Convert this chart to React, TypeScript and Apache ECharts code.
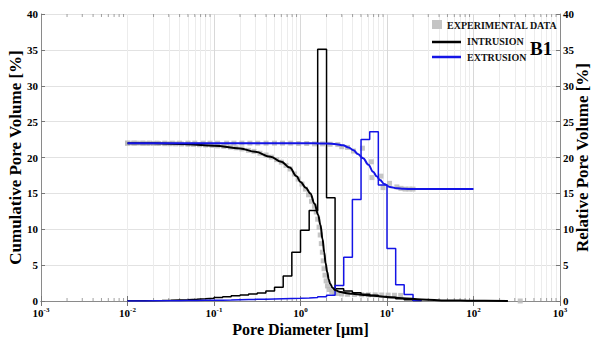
import React, { useEffect, useRef } from "react";
import * as echarts from "echarts";

// Histogram bin edges (µm), 0.1-decade log bins
const binEdges = [
  0.01, 0.0126, 0.0158, 0.02, 0.0251, 0.0316, 0.0398, 0.0501, 0.0631, 0.0794,
  0.1, 0.126, 0.158, 0.2, 0.251, 0.316, 0.398, 0.501, 0.631, 0.794,
  1, 1.26, 1.58, 2.0, 2.51, 3.16, 3.98, 5.01, 6.31, 7.94,
  10, 12.6, 15.8, 20, 25.1,
];

// Relative pore volume per bin [%]
const intrusionRel = [
  0.02, 0.03, 0.05, 0.07, 0.1, 0.14, 0.18, 0.24, 0.31, 0.4,
  0.5, 0.6, 0.72, 0.84, 0.97, 1.1, 1.4, 1.93, 3.5, 6.8,
  9.86, 12.6, 35.1, 14.4, 1.7, 1.4, 1.15, 0.95, 0.8, 0.62,
  0.48, 0.32, 0.18, 0.07,
];
const extrusionRel = [
  0.0, 0.01, 0.02, 0.03, 0.04, 0.05, 0.06, 0.07, 0.09, 0.1,
  0.12, 0.14, 0.17, 0.2, 0.23, 0.26, 0.29, 0.32, 0.35, 0.38,
  0.42, 0.5, 0.6, 0.8, 2.17, 6.1, 14.15, 22.5, 23.6, 16.15,
  7.3, 2.26, 0.9, 0.07,
];

// Cumulative fitted curves [diameter µm, %]
const intrusionCum = [
  [0.01, 22.0], [0.02, 21.97], [0.05, 21.85], [0.1, 21.65], [0.2, 21.25],
  [0.3, 20.8], [0.45, 20.1], [0.6, 19.4], [0.75, 18.6], [0.9, 17.4],
  [1.0, 16.6], [1.15, 15.8], [1.3, 15.0], [1.45, 13.6], [1.6, 12.0],
  [1.7, 10.6], [1.8, 8.6], [1.88, 6.8], [1.95, 5.3], [2.04, 4.0],
  [2.12, 3.0], [2.2, 2.4], [2.35, 1.85], [2.5, 1.55], [2.8, 1.3],
  [3.3, 1.12], [4, 1.0], [5, 0.88], [7, 0.72], [10, 0.57],
  [15, 0.4], [25, 0.22], [50, 0.08], [100, 0.03], [250, 0.0],
];
const extrusionCum = [
  [0.01, 22.0], [0.1, 22.0], [1, 22.0], [2, 21.95], [2.6, 21.85],
  [3.1, 21.7], [3.6, 21.4], [4.1, 21.0], [4.6, 20.5], [5.3, 19.9],
  [6.1, 19.0], [6.9, 18.0], [7.6, 17.4], [8.3, 16.85], [9.3, 16.3],
  [10.8, 15.9], [13, 15.7], [15.5, 15.65], [20, 15.6], [100, 15.6],
];

// Experimental data points [diameter µm, %]
const expIntrusion = [
  [0.01, 22.0], [0.0115, 22.0], [0.013, 22.0], [0.015, 21.98], [0.017, 21.97],
  [0.02, 21.96], [0.023, 21.95], [0.027, 21.93], [0.031, 21.92], [0.036, 21.9],
  [0.042, 21.88], [0.05, 21.85], [0.058, 21.82], [0.068, 21.78], [0.08, 21.74],
  [0.095, 21.68], [0.11, 21.62], [0.13, 21.55], [0.155, 21.45], [0.18, 21.35],
  [0.21, 21.2], [0.25, 21.0], [0.29, 20.85], [0.34, 20.6], [0.4, 20.35],
  [0.46, 20.05], [0.53, 19.7], [0.6, 19.35], [0.68, 18.9], [0.76, 18.4],
  [0.85, 17.7], [0.94, 17.0], [1.04, 16.3], [1.14, 15.6], [1.24, 14.8],
  [1.34, 13.9], [1.45, 13.2], [1.52, 12.4], [1.58, 11.4], [1.64, 10.3],
  [1.69, 9.2], [1.74, 8.0], [1.79, 6.8], [1.83, 5.6], [1.87, 4.5],
  [1.92, 3.6], [1.98, 2.8], [2.05, 2.1], [2.15, 1.6], [2.3, 1.3],
  [2.5, 1.15], [2.7, 1.05], [3.0, 0.98], [3.5, 0.93], [4.2, 0.9],
  [5.1, 0.87], [6.1, 0.86], [7.3, 0.85], [8.7, 0.84], [10.3, 0.82],
  [12.2, 0.8], [14.4, 0.78], [347, 0.0],
];
const expExtrusion = [
  [0.01, 22.0], [0.012, 22.0], [0.015, 22.0], [0.018, 22.0], [0.022, 22.0],
  [0.027, 22.0], [0.033, 22.0], [0.04, 22.0], [0.05, 22.0], [0.06, 22.0],
  [0.075, 22.0], [0.09, 22.0], [0.11, 22.0], [0.14, 22.0], [0.17, 22.0],
  [0.21, 22.0], [0.26, 22.0], [0.32, 22.0], [0.4, 22.0], [0.5, 22.0],
  [0.62, 22.0], [0.77, 22.0], [0.95, 21.95], [1.18, 21.95], [1.45, 21.9],
  [1.8, 21.9], [2.2, 21.85], [2.7, 21.8], [3.0, 21.5], [3.5, 21.4],
  [4.1, 20.9], [5.2, 21.3], [6.6, 19.4], [6.7, 17.2], [8.5, 17.4],
  [9.0, 15.8], [10.7, 16.4], [13, 15.9], [14.5, 15.7], [16.2, 15.6],
  [18, 15.6], [20, 15.6],
];

const FONT = "'Liberation Serif', 'Times New Roman', serif";
const BLUE = "#1414e6";

function stepData(edges: number[], vals: number[]) {
  const d: number[][] = vals.map((v, i) => [edges[i], v]);
  d.push([edges[edges.length - 1], 0]);
  return d;
}

export default function App() {
  const ref = useRef<HTMLDivElement>(null);
  useEffect(() => {
    const chart = echarts.init(ref.current!, null, { renderer: "svg" });
    const minorVals: number[] = [];
    for (let k = -3; k < 3; k++) {
      for (let m = 2; m <= 9; m++) minorVals.push(Number((m * Math.pow(10, k)).toPrecision(3)));
    }
    const labelStyle = { fontFamily: FONT, fontWeight: "bold" as const, fontSize: 11, color: "#000" };
    const nameStyle = { fontFamily: FONT, fontWeight: "bold" as const, fontSize: 17, color: "#000" };
    const option: any = {
      animation: false,
      backgroundColor: "#fff",
      grid: { left: 41, right: 32, top: 14, bottom: 37, containLabel: false, outerBoundsMode: "none" },
      xAxis: [
        {
          type: "log",
          logBase: 10,
          min: 0.001,
          max: 1000,
          position: "bottom",
          axisLine: { show: true, lineStyle: { color: "#8a8a8a", width: 1 } },
          axisTick: { show: true, inside: true, length: 5, lineStyle: { color: "#777" } },
          splitLine: { show: true, lineStyle: { color: "#d8d8d8", width: 1 } },
          axisLabel: {
            margin: 5,
            formatter: (v: number) => `{b|10}{s|${Math.round(Math.log10(v))}}`,
            rich: {
              b: { ...labelStyle, fontSize: 11, verticalAlign: "bottom", lineHeight: 12 },
              s: { ...labelStyle, fontSize: 7, verticalAlign: "top", lineHeight: 12 },
            },
          },
          name: "Pore Diameter [μm]",
          nameLocation: "middle",
          nameGap: 20,
          nameMoveOverlap: false,
          nameTextStyle: { ...nameStyle, fontSize: 16 },
        },
        {
          type: "log",
          logBase: 10,
          min: 0.001,
          max: 1000,
          position: "top",
          axisLine: { show: true, lineStyle: { color: "#8a8a8a", width: 1 } },
          axisTick: { show: true, inside: true, length: 5, lineStyle: { color: "#777" } },
          axisLabel: { show: false },
          splitLine: { show: false },
        },
      ],
      yAxis: [
        {
          type: "value",
          min: 0,
          max: 40,
          interval: 5,
          position: "left",
          axisLine: { show: true, lineStyle: { color: "#8a8a8a", width: 1 } },
          axisTick: { show: true, inside: true, length: 4, lineStyle: { color: "#777" } },
          splitLine: { show: true, lineStyle: { color: "#e2e2e2", width: 1 } },
          axisLabel: { ...labelStyle, margin: 3 },
          name: "Cumulative Pore Volume [%]",
          nameLocation: "middle",
          nameGap: 17,
          nameMoveOverlap: false,
          nameRotate: 90,
          nameTextStyle: nameStyle,
        },
        {
          type: "value",
          min: 0,
          max: 40,
          interval: 5,
          position: "right",
          axisLine: { show: true, lineStyle: { color: "#8a8a8a", width: 1 } },
          axisTick: { show: true, inside: true, length: 4, lineStyle: { color: "#777" } },
          splitLine: { show: false },
          axisLabel: { ...labelStyle, margin: 3 },
          name: "Relative Pore Volume [%]",
          nameLocation: "middle",
          nameGap: 14,
          nameMoveOverlap: false,
          nameRotate: 90,
          nameTextStyle: nameStyle,
        },
      ],
      series: [
        {
          type: "line",
          data: [[0.001, -10]],
          showSymbol: false,
          lineStyle: { opacity: 0 },
          silent: true,
          z: 0,
          markLine: {
            silent: true,
            z: 0,
            symbol: ["none", "none"],
            label: { show: false },
            lineStyle: { color: "#ececec", width: 1, type: "solid" },
            data: minorVals.map((v) => ({ xAxis: v })),
          },
        },
        {
          type: "scatter",
          data: minorVals.map((v) => [v, 0]),
          symbol: "rect",
          symbolSize: [1, 3],
          symbolOffset: [0, -1.5],
          itemStyle: { color: "#888" },
          silent: true,
          clip: false,
          z: 1,
        },
        {
          type: "scatter",
          data: minorVals.map((v) => [v, 40]),
          symbol: "rect",
          symbolSize: [1, 3],
          symbolOffset: [0, 1.5],
          itemStyle: { color: "#888" },
          silent: true,
          clip: false,
          z: 1,
        },
        {
          type: "scatter",
          name: "EXPERIMENTAL DATA",
          data: expIntrusion,
          symbol: "rect",
          symbolSize: 5,
          itemStyle: { color: "#b8b8b8" },
          z: 2,
        },
        {
          type: "scatter",
          data: expExtrusion,
          symbol: "rect",
          symbolSize: 5,
          itemStyle: { color: "#b8b8b8" },
          z: 2,
        },
        {
          type: "line",
          yAxisIndex: 1,
          step: "end",
          data: stepData(binEdges, intrusionRel),
          showSymbol: false,
          lineStyle: { color: "#000", width: 1.5 },
          z: 3,
        },
        {
          type: "line",
          yAxisIndex: 1,
          step: "end",
          data: stepData(binEdges, extrusionRel),
          showSymbol: false,
          lineStyle: { color: BLUE, width: 1.5 },
          z: 3,
        },
        {
          type: "line",
          name: "INTRUSION",
          data: intrusionCum,
          smooth: 0.4,
          smoothMonotone: "x",
          showSymbol: false,
          lineStyle: { color: "#000", width: 2 },
          z: 4,
        },
        {
          type: "line",
          name: "EXTRUSION",
          data: extrusionCum,
          smooth: 0.4,
          smoothMonotone: "x",
          showSymbol: false,
          lineStyle: { color: BLUE, width: 2 },
          z: 4,
        },
      ],
      graphic: [
        { type: "rect", shape: { x: 432, y: 20, width: 10, height: 9 }, style: { fill: "#c4c4c4" }, z: 10 },
        {
          type: "text", x: 447, y: 25,
          style: { text: "EXPERIMENTAL DATA", font: `bold 10px ${FONT}`, fill: "#111", verticalAlign: "middle" },
          z: 10,
        },
        { type: "line", shape: { x1: 432, y1: 42, x2: 461, y2: 42 }, style: { stroke: "#000", lineWidth: 2.5 }, z: 10 },
        {
          type: "text", x: 467, y: 41,
          style: { text: "INTRUSION", font: `bold 10px ${FONT}`, fill: "#111", verticalAlign: "middle" },
          z: 10,
        },
        { type: "line", shape: { x1: 432, y1: 57, x2: 461, y2: 57 }, style: { stroke: BLUE, lineWidth: 2.5 }, z: 10 },
        {
          type: "text", x: 467, y: 57,
          style: { text: "EXTRUSION", font: `bold 10px ${FONT}`, fill: "#111", verticalAlign: "middle" },
          z: 10,
        },
        {
          type: "text", x: 530, y: 48,
          style: { text: "B1", font: `bold 19px ${FONT}`, fill: "#000", verticalAlign: "middle" },
          z: 10,
        },
      ],
    };
    chart.setOption(option);
    return () => chart.dispose();
  }, []);
  return (
    <div
      ref={ref}
      style={{ position: "fixed", left: 0, top: 0, width: 592, height: 338, background: "#fff" }}
    />
  );
}
